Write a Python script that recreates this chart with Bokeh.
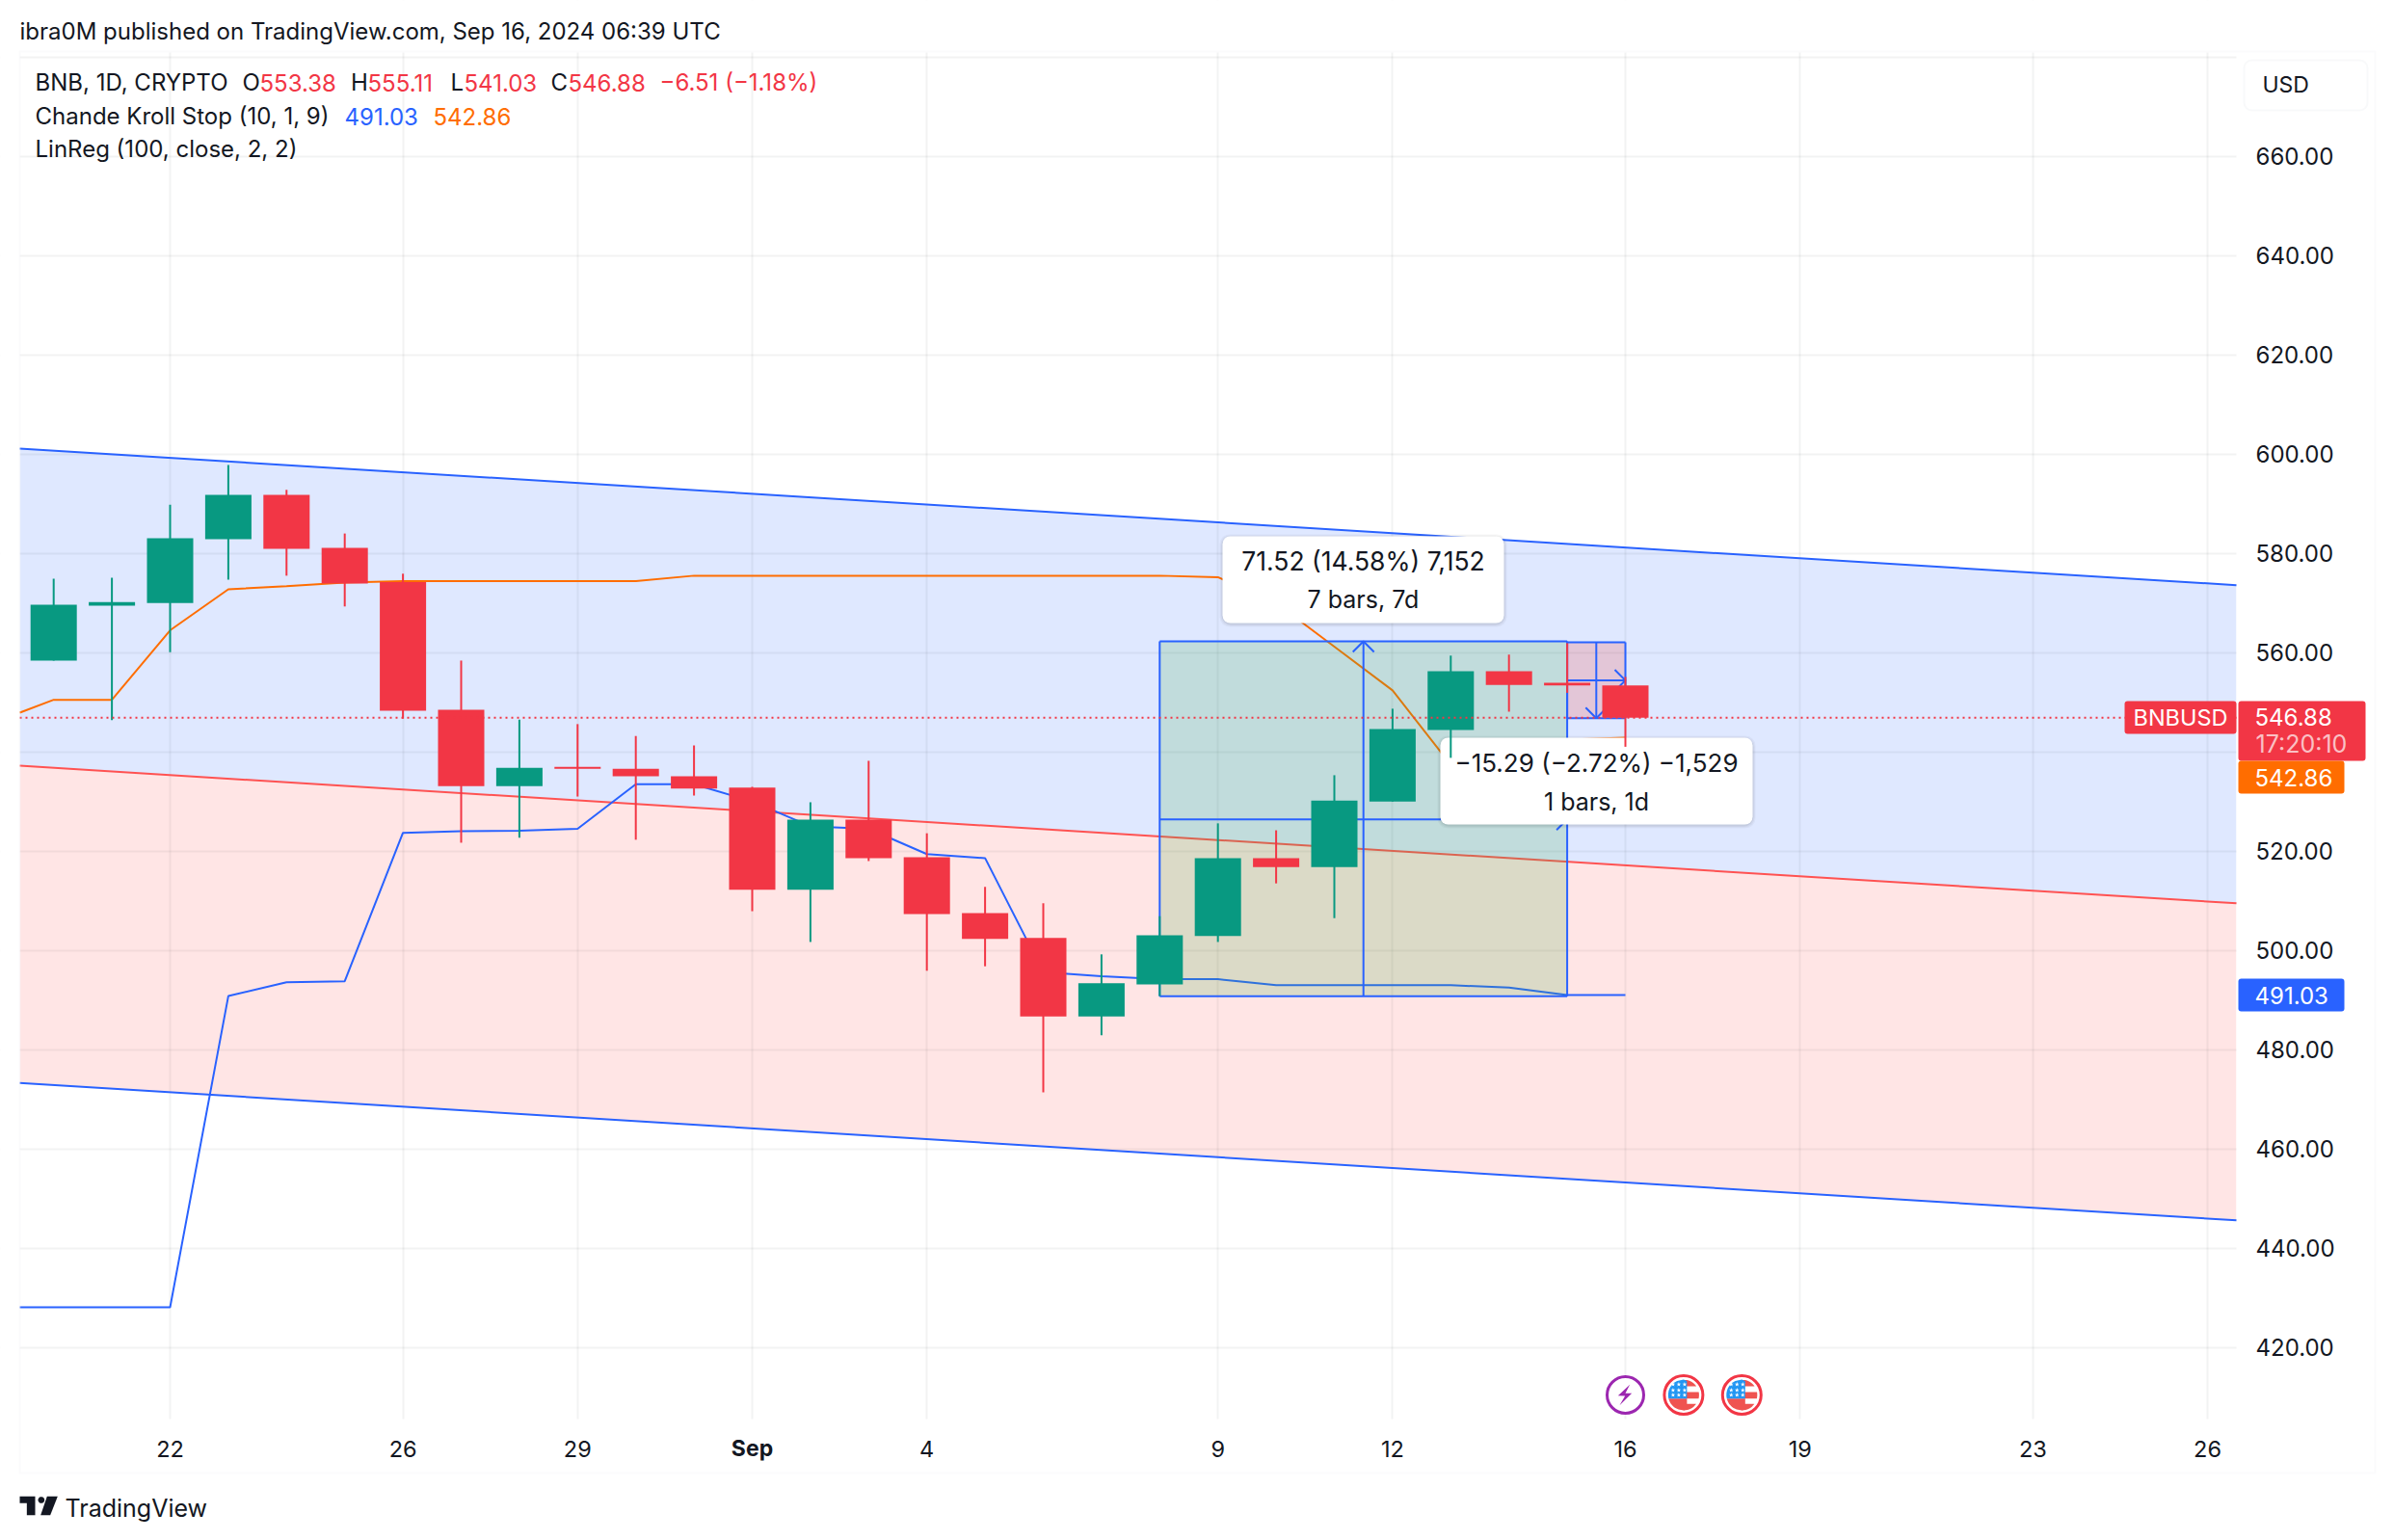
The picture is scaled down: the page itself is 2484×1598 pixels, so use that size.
import numpy as np
from bokeh.core.properties import value
from bokeh.embed import file_html
from bokeh.models import (BoxAnnotation, ColumnDataSource, FixedTicker, Label,
                          PolyAnnotation, Range1d)
from bokeh.plotting import figure
from bokeh.resources import INLINE

# ---- data (x = days after 22 Aug 2024) ----
days = list(range(-2, 26))
opens = [558.4, 569.45, 570.0, 582.85, 591.8, 581.1, 574.2, 548.5, 533.1, 537.0, 536.6, 535.1, 532.8, 512.2,
         526.35, 518.8, 507.5, 502.5, 486.7, 493.15, 502.9, 518.6, 516.8, 530.0, 544.4, 556.25, 553.9, 553.38]
highs = [574.9, 575.1, 589.8, 597.8, 592.8, 584.0, 575.9, 558.4, 546.5, 545.6, 543.2, 541.3, 532.96, 529.85,
         538.2, 523.6, 512.8, 509.5, 499.2, 506.9, 525.6, 524.2, 535.3, 548.7, 559.4, 559.6, 561.9, 555.11]
lows = [558.4, 546.4, 560.1, 574.7, 575.5, 569.3, 546.7, 521.7, 522.7, 531.0, 522.3, 531.2, 507.9, 501.7,
        518.0, 495.9, 496.8, 471.4, 482.9, 490.8, 501.7, 513.5, 506.5, 530.0, 538.8, 548.1, 551.9, 541.03]
closes = [569.65, 570.2, 583.05, 591.8, 580.9, 573.9, 548.3, 533.1, 536.8, 536.6, 535.1, 532.6, 512.2, 526.35,
          518.6, 507.3, 502.3, 486.7, 493.4, 503.05, 518.6, 516.8, 530.2, 544.6, 556.25, 553.5, 553.38, 546.88]

ck_days = list(range(-3, 26))
ck_upper = [546.0, 550.5, 550.5, 564.5, 572.75, 573.4, 574.1, 574.4, 574.4, 574.4, 574.4, 574.4,
            575.5, 575.5, 575.5, 575.5, 575.5, 575.5, 575.5, 575.5, 575.5,
            575.2, 570.0, 561.2, 552.4, 537.4, 540.0, 542.46, 542.86]
ck_lower = [428.1, 428.1, 428.1, 428.1, 490.8, 493.6, 493.8, 523.7, 524.0, 524.1, 524.5, 533.5, 533.5, 530.0, 525.0,
            524.5, 519.4, 518.6, 495.6, 494.8, 494.2, 494.2, 493.0, 493.0, 493.0, 493.0, 492.5, 491.03, 491.03]

channel_upper = [601.1, 573.6]
channel_mid = [537.2, 509.5]
channel_lower = [473.3, 445.6]

price_ticks = list(range(420, 681, 20))
date_ticks = {0: "22", 4: "26", 7: "29", 10: "", 13: "4", 18: "9", 21: "12", 25: "16", 28: "19", 32: "23", 35: "26"}
event_days = [25, 26, 27]

# ---- pixel <-> data helpers (annotations placed by pixel) ----
X0, XS, Y0, YS = 176.0, 60.4, 676.7, 5.15
PANE_L, PANE_R, PANE_T, PANE_B = 20, 2320, 54, 1472
W, H = 2476, 1590


def dx(px):
    return (np.asarray(px, dtype=float) - X0) / XS


def dy(py):
    return 560.0 - (np.asarray(py, dtype=float) - Y0) / YS


FONT = "Inter"
INK = "#131722"
RED = "#F23645"
GREEN = "#089981"
BLUE = "#2962FF"
ORANGE = "#FF6D00"
LINE = "#F1F2F6"

# The frame fills the canvas; the axes are pinned to the edges of the price pane.
p = figure(width=W, height=H, output_backend="svg", toolbar_location=None,
           x_range=Range1d(float(dx(0)), float(dx(W))), y_range=Range1d(float(dy(H)), float(dy(0))),
           y_axis_location="right", min_border=0, outline_line_color=None)

p.yaxis.ticker = FixedTicker(ticks=price_ticks)
p.yaxis.major_label_overrides = {680: "", 540: ""} | {t: f"{t}.00" for t in price_ticks if t not in (680, 540)}
p.xaxis.ticker = FixedTicker(ticks=list(date_ticks))
p.xaxis.major_label_overrides = date_ticks
p.yaxis.fixed_location = float(dx(PANE_R))
p.xaxis.fixed_location = float(dy(PANE_B))
for ax in (p.xaxis, p.yaxis):
    ax.axis_line_color = None
    ax.major_tick_line_color = None
    ax.minor_tick_line_color = None
    ax.major_label_text_font = FONT
    ax.major_label_text_color = INK
p.yaxis.major_label_text_font_size = "24px"
p.xaxis.major_label_text_font_size = "23.5px"
p.yaxis.major_label_standoff = 14
p.xaxis.major_label_standoff = 16
p.grid.grid_line_color = "#2A2E39"
p.grid.grid_line_alpha = 0.06
p.grid.grid_line_width = 2

# white covers: the grid belongs to the pane only
for l, r, t, b in ((0, PANE_L, 0, H), (PANE_R, W, 0, H), (0, W, 0, PANE_T), (0, W, PANE_B, H)):
    p.quad(left=float(dx(l)), right=float(dx(r)), top=float(dy(t)), bottom=float(dy(b)),
           fill_color="#FFFFFF", line_color=None)

# regression channel
xe = [float(dx(PANE_L)), float(dx(PANE_R))]
p.varea(xe, channel_mid, channel_upper, fill_color=BLUE, fill_alpha=0.15, level="image")
p.varea(xe, channel_lower, channel_mid, fill_color="#FF5252", fill_alpha=0.15, level="image")
p.line(xe, channel_upper, line_color=BLUE, line_width=2)
p.line(xe, channel_lower, line_color=BLUE, line_width=2)
p.line(xe, channel_mid, line_color="#FF5252", line_width=2)

# Chande Kroll stop (only what lies inside the pane)
ck_keep = [i for i, d in enumerate(ck_days) if d >= -2]
ck_x = [float(dx(PANE_L))] + [ck_days[i] for i in ck_keep]
p.line(ck_x, [547.9] + [ck_upper[i] for i in ck_keep], line_color=ORANGE, line_width=2)
p.line(ck_x, [428.1] + [ck_lower[i] for i in ck_keep], line_color=BLUE, line_width=2)


def chevron(x, y, direction, arm=11):
    cx, cy = float(x), float(y)
    ax, ay = arm / XS, arm / YS
    if direction == "up":
        return [cx - ax, cx, cx + ax], [cy - ay, cy, cy - ay]
    if direction == "down":
        return [cx - ax, cx, cx + ax], [cy + ay, cy, cy + ay]
    return [cx - ax, cx, cx - ax], [cy + ay, cy, cy - ay]


def measure(left, right, bottom, top, mid_x, mid_y, fill, vdir):
    p.quad(left=left, right=right, bottom=bottom, top=top, fill_color=fill, fill_alpha=0.2, line_color=None)
    p.multi_line([[left, right], [left, right], [left, left], [right, right]],
                 [[top, top], [bottom, bottom], [bottom, top], [bottom, top]], line_color=BLUE, line_width=2)
    p.line([mid_x, mid_x], [bottom, top], line_color=BLUE, line_width=2)
    p.line([left, right], [mid_y, mid_y], line_color=BLUE, line_width=2)
    a = chevron(mid_x, top if vdir == "up" else bottom, vdir)
    b = chevron(right, mid_y, "right")
    p.multi_line([a[0], b[0]], [a[1], b[1]], line_color=BLUE, line_width=2)


measure(17, 24, 490.76, 562.28, 20.5, 526.4, "#4CAF50", "up")
measure(24, 25, 546.79, 562.08, 24.5, 554.4, "#F44336", "down")


def tooltip(x0, x1, y0, y1, texts, ys, cx, sizes):
    for g, a in ((3, 0.03), (2, 0.04), (1, 0.05)):
        p.quad(left=float(dx(x0 - g)), right=float(dx(x1 + g)), bottom=float(dy(y1 + g + 1)), top=float(dy(y0 - g + 1)),
               fill_color="#000000", fill_alpha=a, line_color=None, border_radius=10)
    p.quad(left=float(dx(x0)), right=float(dx(x1)), bottom=float(dy(y1)), top=float(dy(y0)),
           fill_color="#FFFFFF", line_color=None, border_radius=8)
    for txt, v, s in zip(texts, ys, sizes):
        p.text([float(dx(cx))], [float(dy(v))], text=[txt], text_align="center", text_baseline="middle",
               text_font=value(FONT), text_font_size=value(s), text_color=INK)


tooltip(1268, 1560, 556, 646, ["71.52 (14.58%) 7,152", "7 bars, 7d"], [581.7, 621.7], 1414, ["26.5px", "25px"])
tooltip(1494, 1818, 765, 855, ["\u221215.29 (\u22122.72%) \u22121,529", "1 bars, 1d"], [790.7, 831], 1656,
        ["26px", "25px"])

# candles
colors = [GREEN if c >= o else RED for o, c in zip(opens, closes)]
src = ColumnDataSource(dict(x=days, o=opens, h=highs, l=lows, c=closes, color=colors,
                            top=[max(o, c) for o, c in zip(opens, closes)],
                            bottom=[min(o, c) for o, c in zip(opens, closes)]))
p.segment("x", "h", "x", "l", source=src, line_color="color", line_width=2)
p.vbar("x", 0.795, "top", "bottom", source=src, fill_color="color", line_color=None)

# last price line
p.line(xe, [closes[-1], closes[-1]], line_color=RED, line_width=2, line_dash="2 4")

# event icons
ICON_Y = 1447
bolt = np.array([(272, 108), (235, 142), (257, 143), (240, 172), (278, 135), (258, 135)], dtype=float)
bolt = (bolt - np.array([258, 140])) / 3
ex = float(event_days[0])
p.scatter([ex], [float(dy(ICON_Y))], marker="circle", size=38, fill_color="#FFFFFF", line_color="#9C27B0", line_width=3)
p.patch(ex + bolt[:, 0] / XS, dy(ICON_Y + bolt[:, 1]), fill_color="#9C27B0", line_color=None)


def disc_piece(cx, cy, r, x0, x1, y0, y1):
    ys = np.linspace(max(y0, -r), min(y1, r), 14)
    half = np.sqrt(np.maximum(r * r - ys * ys, 0))
    xl = np.maximum(x0, -half)
    xr = np.minimum(x1, half)
    keep = xr >= xl
    xs = np.concatenate([xl[keep], xr[keep][::-1]])
    yy = np.concatenate([ys[keep], ys[keep][::-1]])
    return cx + xs / XS, dy(cy + yy)


for ev in event_days[1:]:
    p.scatter([ev], [float(dy(ICON_Y))], marker="circle", size=40, fill_color="#FFFFFF", line_color=RED, line_width=3)
    for a, b in ((-15.6, -9), (-3, 3.7), (9.3, 16.7)):
        xs, ys = disc_piece(ev, ICON_Y, 16, 0, 16, a, b)
        p.patch(xs, ys, fill_color="#EF5350", line_color=None)
    xs, ys = disc_piece(ev, ICON_Y, 16, -16, 3.5, 3.7, 16.7)
    p.patch(xs, ys, fill_color="#EF5350", line_color=None)
    xs, ys = disc_piece(ev, ICON_Y, 16, -16, 3.5, -16, 3.7)
    p.patch(xs, ys, fill_color="#2196F3", line_color=None)
    sx = [ev + o / XS for o in (-11, -5, 1) for _ in range(3)]
    sy = [float(dy(ICON_Y + o)) for _ in range(3) for o in (-11, -5, 0)]
    p.scatter(sx, sy, marker="star", size=5, fill_color="#FFFFFF", line_color=None)

# ---- things in the margins, in canvas pixels ----


def box(x0, x1, y0, y1, fill=None, line=None, lw=0, radius=0):
    p.add_layout(BoxAnnotation(left=x0, right=x1, top=y0, bottom=y1,
                               left_units="canvas", right_units="canvas", top_units="canvas", bottom_units="canvas",
                               fill_color=fill, fill_alpha=1 if fill else 0, line_color=line, line_width=lw,
                               border_radius=radius, editable=False))


def label(text, x, y, color=INK, size=24, align="left", weight="normal", alpha=1.0):
    p.add_layout(Label(text=text, x=x, y=y, x_units="canvas", y_units="canvas", text_align=align,
                       text_baseline="middle", text_font=FONT, text_font_size=f"{size}px", text_color=color,
                       text_font_style=weight, text_alpha=alpha))


box(20, 2464, 53, 1528, line=LINE, lw=2)
box(2204, 2320, 727, 761, fill=RED, radius=3)
box(2322, 2454, 727, 789, fill=RED, radius=3)
box(2322, 2432, 789, 823, fill=ORANGE, radius=3)
box(2322, 2432, 1015, 1049, fill=BLUE, radius=3)
box(2328, 2456, 62, 114, fill="#FFFFFF", line="#E9EAEF", lw=2, radius=8)

label("BNBUSD", 2213, 744, "#FFFFFF", size=23.5)
label("546.88", 2339, 743, "#FFFFFF", size=24)
label("17:20:10", 2340, 771, "#FFFFFF", size=25, alpha=0.7)
label("542.86", 2339, 806, "#FFFFFF", size=24)
label("491.03", 2339, 1032, "#FFFFFF", size=24)
label("USD", 2347, 87, size=23)
label("Sep", float(X0 + 10 * XS), 1502, size=23, align="center", weight="bold")

label("ibra0M published on TradingView.com, Sep 16, 2024 06:39 UTC", 20, 32)
label("BNB, 1D, CRYPTO", 36, 85)
for t, x, c in (("O", 251, INK), ("553.38", 269, RED), ("H", 363.5, INK), ("555.11", 381, RED), ("L", 467, INK),
                ("541.03", 481, RED), ("C", 571, INK), ("546.88", 589, RED), ("\u22126.51 (\u22121.18%)", 684, RED)):
    label(t, x, 85, c)
label("Chande Kroll Stop (10, 1, 9)", 36, 120)
label("491.03", 357, 120, BLUE)
label("542.86", 449, 120, ORANGE)
label("LinReg (100, close, 2, 2)", 36, 154)
label("TradingView", 67, 1564, size=25)


def logo(points):
    xs, ys = zip(*points)
    p.add_layout(PolyAnnotation(xs=[v / 3 for v in xs], ys=[1380 + v / 3 for v in ys],
                                xs_units="canvas", ys_units="canvas", fill_color=INK, fill_alpha=1,
                                line_color=None))


logo([(60, 517), (108, 517), (108, 575), (82, 575), (82, 538), (60, 538)])
logo([(127 + 10 * np.cos(t), 528 + 10 * np.sin(t)) for t in np.linspace(0, 2 * np.pi, 24)])
logo([(145, 517), (178, 517), (155, 575), (125, 575)])

open("out.html", "w").write(file_html(p, INLINE))
